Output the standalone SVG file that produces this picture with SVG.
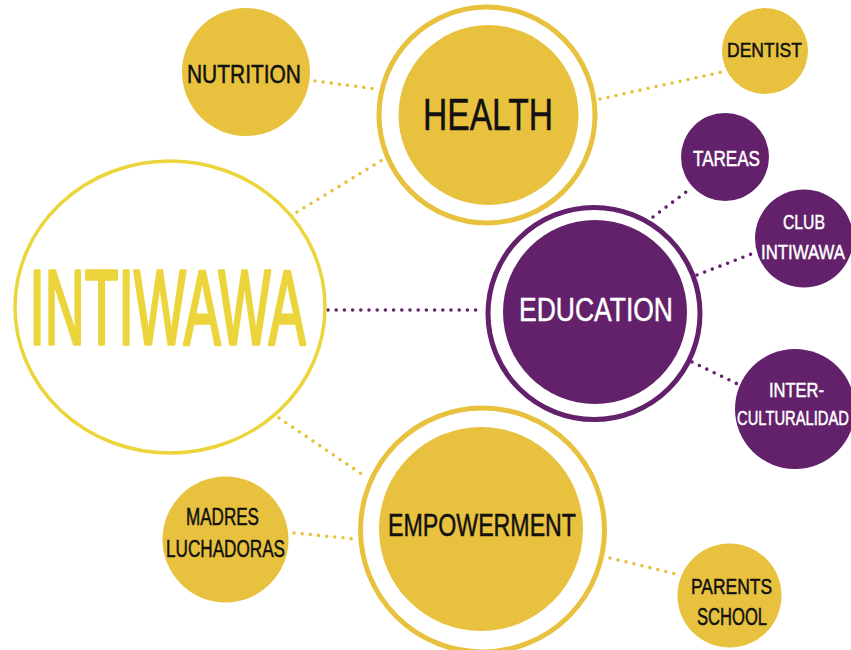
<svg xmlns="http://www.w3.org/2000/svg" width="851" height="650" viewBox="0 0 851 650">
<style>
.y{fill:#e8c23e}
.p{fill:#62216a}
.yr{fill:none;stroke:#e8c23e;stroke-width:5}
.pr{fill:none;stroke:#62216a;stroke-width:5}
.t{font-family:"Liberation Sans","DejaVu Sans",sans-serif;text-anchor:middle;fill:#111;stroke:#111;stroke-width:0.5}
.w{fill:#fff;stroke:#fff}
.dy{stroke:#e8c23e;stroke-width:3.6;stroke-linecap:round;stroke-dasharray:0 8.2;fill:none}
.dp{stroke:#62216a;stroke-width:3.6;stroke-linecap:round;stroke-dasharray:0 8.2;fill:none}
</style>
<rect width="851" height="650" fill="#fff"/>
<g id="connectors">
<line class="dy" x1="315" y1="81" x2="376" y2="89"/>
<line class="dy" x1="600" y1="99" x2="722" y2="72"/>
<line class="dy" x1="297" y1="212" x2="384" y2="159"/>
<line class="dp" x1="328" y1="310" x2="480" y2="310"/>
<line class="dy" x1="279" y1="418" x2="363" y2="475"/>
<line class="dy" x1="294" y1="533" x2="355" y2="539"/>
<line class="dy" x1="610" y1="558" x2="676" y2="574"/>
<line class="dp" x1="653" y1="217" x2="690" y2="189"/>
<line class="dp" x1="697" y1="275" x2="754" y2="253"/>
<line class="dp" x1="692" y1="362" x2="750" y2="390"/>
</g>
<g id="intiwawa">
<ellipse cx="170" cy="307" rx="155" ry="146" fill="none" stroke="#ecd53c" stroke-width="3.5"/>
<text class="t" x="167.5" y="344" font-size="105" textLength="276" lengthAdjust="spacingAndGlyphs" style="fill:#ecd53c;stroke:#ecd53c;stroke-width:3.5;stroke-linejoin:round">INTIWAWA</text>
</g>
<g id="health">
<circle class="yr" cx="487" cy="115" r="108"/>
<circle class="y" cx="488.5" cy="115" r="90"/>
<text class="t" x="488" y="130" font-size="44" textLength="130" lengthAdjust="spacingAndGlyphs">HEALTH</text>
</g>
<g id="education">
<circle class="pr" cx="594" cy="313.5" r="106"/>
<circle class="p" cx="595" cy="312" r="92"/>
<text class="t w" x="596" y="321" font-size="34" textLength="154" lengthAdjust="spacingAndGlyphs">EDUCATION</text>
</g>
<g id="empowerment">
<circle class="yr" cx="482.5" cy="530" r="122"/>
<circle class="y" cx="481" cy="529" r="102"/>
<text class="t" x="482" y="536" font-size="32" textLength="188" lengthAdjust="spacingAndGlyphs">EMPOWERMENT</text>
</g>
<g id="nutrition">
<circle class="y" cx="246" cy="72" r="64"/>
<text class="t" x="244" y="83" font-size="26" textLength="114" lengthAdjust="spacingAndGlyphs">NUTRITION</text>
</g>
<g id="dentist">
<circle class="y" cx="765" cy="51" r="43"/>
<text class="t" x="764.5" y="57" font-size="21" textLength="75" lengthAdjust="spacingAndGlyphs">DENTIST</text>
</g>
<g id="tareas">
<circle class="p" cx="725" cy="157" r="44"/>
<text class="t w" x="726.5" y="166" font-size="22" textLength="67" lengthAdjust="spacingAndGlyphs">TAREAS</text>
</g>
<g id="club">
<circle class="p" cx="804" cy="238.5" r="49"/>
<text class="t w" x="804" y="229" font-size="21" textLength="42" lengthAdjust="spacingAndGlyphs">CLUB</text>
<text class="t w" x="803" y="259" font-size="21" textLength="84" lengthAdjust="spacingAndGlyphs">INTIWAWA</text>
</g>
<g id="intercultural">
<circle class="p" cx="795" cy="409" r="60"/>
<text class="t w" x="796.5" y="397" font-size="20" textLength="55" lengthAdjust="spacingAndGlyphs">INTER-</text>
<text class="t w" x="793" y="425" font-size="20" textLength="112" lengthAdjust="spacingAndGlyphs">CULTURALIDAD</text>
</g>
<g id="madres">
<circle class="y" cx="225.5" cy="539.5" r="63"/>
<text class="t" x="222.5" y="525" font-size="23" textLength="73" lengthAdjust="spacingAndGlyphs">MADRES</text>
<text class="t" x="225.5" y="557" font-size="23" textLength="119" lengthAdjust="spacingAndGlyphs">LUCHADORAS</text>
</g>
<g id="parents">
<circle class="y" cx="729.5" cy="595.5" r="52"/>
<text class="t" x="731.5" y="594" font-size="22" textLength="81" lengthAdjust="spacingAndGlyphs">PARENTS</text>
<text class="t" x="732" y="625" font-size="23" textLength="70" lengthAdjust="spacingAndGlyphs">SCHOOL</text>
</g>
</svg>
